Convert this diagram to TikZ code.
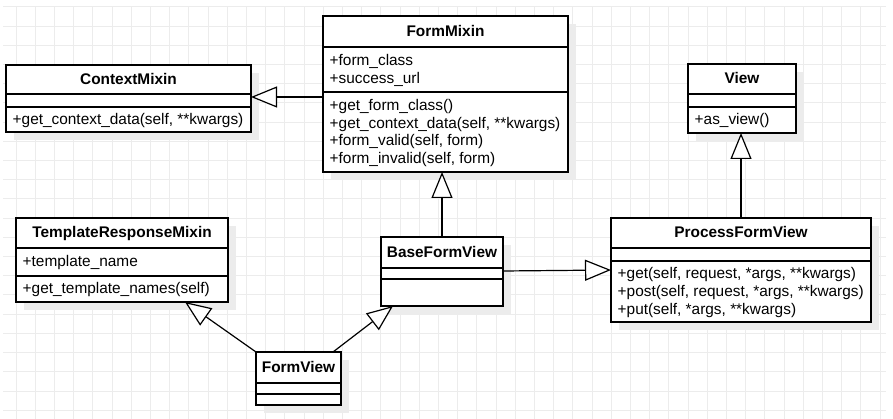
\documentclass[tikz,border=0pt]{standalone}
\usepackage{fontspec}
\setmainfont{Liberation Sans}
\usetikzlibrary{arrows.meta,shadows,calc}
\definecolor{gridc}{RGB}{236,236,236}
\definecolor{shadowc}{RGB}{236,236,236}
\tikzset{
  classbox/.style={draw=black, line width=1.3pt, fill=white, inner sep=0pt, outer sep=0pt, anchor=north west,
    drop shadow={shadow xshift=8pt, shadow yshift=-8pt, fill=shadowc, opacity=1}},
  divider/.style={draw=black, line width=1.3pt},
  classtitle/.style={font=\fontsize{15.4}{17.5}\selectfont\bfseries, inner sep=0pt, anchor=base},
  member/.style={font=\fontsize{15.4}{17.5}\selectfont, inner sep=0pt, anchor=base west},
  inherit/.style={draw=black, line width=1.2pt, -{Triangle[open, length=26pt, width=21pt, fill=white]}},
  gridline/.style={draw=gridc, line width=1pt},
}
% #1 name, #2 left, #3 top, #4 right, #5 divider 1, #6 divider 2, #7 bottom, #8 title
\newcommand{\umlclass}[8]{%
  \node[classbox, minimum width={(#4-#2)*1pt}, minimum height={(#7-#3)*1pt}] (#1) at (#2,#3) {};
  \draw[divider] (#1.west |- 0,#5) -- (#1.east |- 0,#5);
  \draw[divider] (#1.west |- 0,#6) -- (#1.east |- 0,#6);
  \node[classtitle] (#1-title) at ({(#2+#4)/2},{(#3+#5)/2+5}) {#8};
}
\begin{document}
\begin{tikzpicture}[x=1pt,y=-1pt]
\useasboundingbox[fill=white] (0,0) rectangle (893,419);
% background grid
\foreach \k in {0,...,45} \draw[gridline] ({16+19.2*\k},7) -- ({16+19.2*\k},419);
\foreach \k in {0,...,21} \draw[gridline] (3,{7+19.2*\k}) -- (886,{7+19.2*\k});

% classes
\umlclass{ctx}{6}{65}{251}{94}{107}{132}{ContextMixin}
\node[member] (ctx-m1) at (12.5,124.5) {+get\_context\_data(self, **kwargs)};

\umlclass{fm}{323}{16}{568}{47}{92}{172}{FormMixin}
\node[member] (fm-a1) at (329.5,65.75) {+form\_class};
\node[member] (fm-a2) at (329.5,83.25) {+success\_url};
\node[member] (fm-m1) at (329.5,110.75) {+get\_form\_class()};
\node[member] (fm-m2) at (329.5,128.25) {+get\_context\_data(self, **kwargs)};
\node[member] (fm-m3) at (329.5,145.75) {+form\_valid(self, form)};
\node[member] (fm-m4) at (329.5,163.25) {+form\_invalid(self, form)};

\umlclass{view}{688}{64}{796}{94}{107}{133}{View}
\node[member] (view-m1) at (694.5,125) {+as\_view()};

\umlclass{trm}{16}{218}{228}{248}{276}{302}{TemplateResponseMixin}
\node[member] (trm-a1) at (22.5,267) {+template\_name};
\node[member] (trm-m1) at (22.5,294) {+get\_template\_names(self)};

\umlclass{bfv}{381}{237}{503}{268}{279}{306}{BaseFormView}

\umlclass{fv}{256}{352}{341}{383}{394}{405}{FormView}

\umlclass{pfv}{611}{218}{871}{248}{261}{322}{ProcessFormView}
\node[member] (pfv-m1) at (617.5,279) {+get(self, request, *args, **kwargs)};
\node[member] (pfv-m2) at (617.5,296.5) {+post(self, request, *args, **kwargs)};
\node[member] (pfv-m3) at (617.5,314) {+put(self, *args, **kwargs)};

% inheritance connectors
\draw[inherit] (fm.west |- 0,97) -- (ctx.east |- 0,97);
\draw[inherit] (bfv.north) -- (fm.south -| bfv.north);
\draw[inherit] (pfv.north) -- (view.south -| pfv.north);
\draw[inherit] (bfv.east |- 0,271) -- (pfv.west |- 0,270);
\draw[inherit] (fv.north west) -- ([xshift=169pt]trm.south west);
\draw[inherit] ([xshift=-8pt]fv.north east) -- ([xshift=12pt]bfv.south west);
\end{tikzpicture}
\end{document}
